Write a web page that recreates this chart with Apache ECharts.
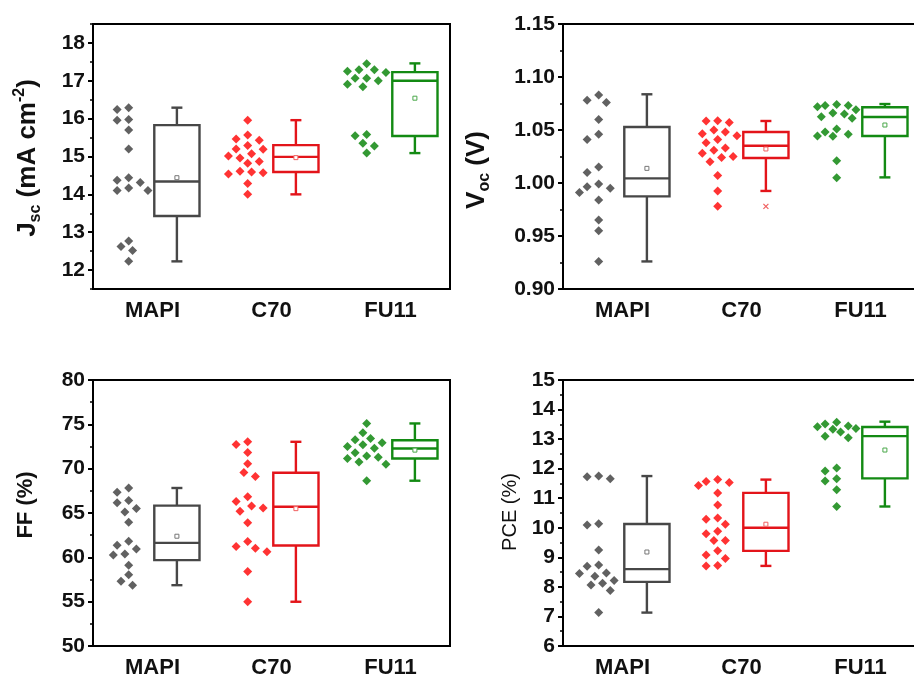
<!DOCTYPE html>
<html>
<head>
<meta charset="utf-8">
<script src="https://cdn.jsdelivr.net/npm/echarts@6/dist/echarts.min.js"></script>
<style>
  html, body { margin: 0; padding: 0; background: #fff; }
  #chart { width: 914px; height: 679px; }
</style>
</head>
<body>
<div id="chart"></div>
<script>
// ---------------- data ----------------
const groups = ['MAPI', 'C70', 'FU11'];

// Short-circuit current density, mA cm^-2
const jscMAPI = [16.29, 16.24, 15.96, 15.98, 15.70, 15.20, 14.31, 14.37, 14.44, 14.17, 14.10, 14.10, 12.62, 12.77, 12.52, 12.23];
const jscC70  = [15.96, 15.46, 15.43, 15.57, 15.29, 15.19, 15.20, 15.07, 15.01, 14.96, 14.87, 14.82, 14.61, 14.57, 14.54, 14.59, 14.29, 14.00];
const jscFU11 = [17.45, 17.25, 17.22, 17.29, 17.29, 17.00, 17.07, 17.07, 16.84, 16.91, 15.58, 15.55, 15.28, 15.35, 15.09];

// Open-circuit voltage, V
const vocMAPI = [1.083, 1.078, 1.076, 1.060, 1.046, 1.041, 1.015, 1.010, 0.995, 0.9965, 0.999, 0.991, 0.984, 0.965, 0.955, 0.926];
const vocC70  = [1.0585, 1.057, 1.0588, 1.0465, 1.0446, 1.050, 1.048, 1.041, 1.038, 1.033, 1.031, 1.028, 1.025, 1.024, 1.020, 1.007, 0.9925, 0.978];
const vocFU11 = [1.0626, 1.069, 1.065, 1.072, 1.074, 1.066, 1.073, 1.073, 1.061, 1.051, 1.048, 1.044, 1.046, 1.0443, 1.021, 1.005];

// Fill factor, %
const ffMAPI = [67.82, 67.33, 66.42, 66.16, 65.52, 65.12, 63.95, 61.81, 61.36, 60.95, 60.27, 60.39, 59.11, 58.03, 57.31, 56.86];
const ffC70  = [73.03, 72.72, 71.82, 70.55, 69.57, 69.12, 66.84, 66.31, 65.79, 65.57, 65.19, 63.91, 61.78, 61.03, 61.22, 60.62, 58.40, 54.99];
const ffFU11 = [75.09, 74.04, 73.40, 72.91, 73.25, 72.31, 72.50, 72.69, 71.30, 71.15, 71.42, 71.79, 70.74, 70.51, 68.64];

// Power conversion efficiency, %
const pceMAPI = [11.66, 11.75, 11.73, 10.14, 10.09, 9.25, 8.45, 8.47, 8.70, 8.74, 8.36, 8.12, 8.22, 8.06, 7.88, 7.13];
const pceC70  = [11.43, 11.18, 11.53, 11.57, 11.63, 10.77, 10.33, 10.29, 10.12, 9.80, 9.88, 9.57, 9.57, 9.22, 9.08, 8.96, 8.71, 8.72];
const pceFU11 = [13.42, 13.24, 13.05, 13.57, 13.44, 13.36, 13.33, 13.51, 13.10, 11.92, 12.02, 11.58, 11.66, 11.29, 10.72];

// Box statistics: [lower whisker, Q1, median, Q3, upper whisker, mean]
const jscBoxMAPI = [12.23, 13.43, 14.34, 15.83, 16.29, 14.44];
const jscBoxC70  = [14.00, 14.59, 14.99, 15.30, 15.96, 14.97];
const jscBoxFU11 = [15.09, 15.54, 17.00, 17.23, 17.46, 16.54];

const vocBoxMAPI = [0.926, 0.9874, 1.0044, 1.0528, 1.0837, 1.0138];
const vocBoxC70  = [0.9925, 1.0236, 1.0352, 1.0481, 1.0585, 1.0321];
const vocBoxFU11 = [1.0053, 1.0443, 1.0623, 1.0714, 1.0745, 1.0547];

const ffBoxMAPI = [56.86, 59.68, 61.63, 65.83, 67.82, 62.38];
const ffBoxC70  = [54.99, 61.33, 65.71, 69.54, 73.03, 65.49];
const ffBoxFU11 = [68.64, 71.15, 72.27, 73.21, 75.10, 72.09];

const pceBoxMAPI = [7.13, 8.17, 8.60, 10.13, 11.75, 9.18];
const pceBoxC70  = [8.71, 9.22, 10.00, 11.18, 11.63, 10.12];
const pceBoxFU11 = [10.72, 11.67, 13.10, 13.41, 13.59, 12.63];

// Points beyond the whiskers
const vocOutliersC70 = [0.978];

// Y tick labels
const jscTicks = [12, 13, 14, 15, 16, 17, 18];

// ---------------- styling / layout ----------------
const FONT = '"Liberation Sans", Arial, Helvetica, sans-serif';
const pointColors = ['#3a3a3a', '#ff0000', '#008000'];
const boxColors   = ['#474747', '#e3141a', '#138a13'];
const meanColors  = ['#777777', '#f06060', '#4aa84a'];

const SCATTER_SHIFT = -0.2;   // category units, dots left of the tick
const BOX_SHIFT = 0.205;      // category units, box right of the tick
const BOX_WIDTH = 0.38;       // category units
const CAP_PX = 11;

const grids = [
  { left: 93,  top: 24,  width: 357, height: 265 },
  { left: 563, top: 24,  width: 357, height: 265 },
  { left: 93,  top: 380, width: 357, height: 266 },
  { left: 563, top: 380, width: 357, height: 266 }
];

const panels = [
  { min: 11.5, max: 18.5, interval: null, fmt: v => String(v),
    pts: [jscMAPI, jscC70, jscFU11], boxes: [jscBoxMAPI, jscBoxC70, jscBoxFU11], outliers: [[], [], []] },
  { min: 0.90, max: 1.15, interval: 0.05, fmt: v => v.toFixed(2),
    pts: [vocMAPI, vocC70, vocFU11], boxes: [vocBoxMAPI, vocBoxC70, vocBoxFU11], outliers: [[], vocOutliersC70, []] },
  { min: 50, max: 80, interval: 5, fmt: v => String(v),
    pts: [ffMAPI, ffC70, ffFU11], boxes: [ffBoxMAPI, ffBoxC70, ffBoxFU11], outliers: [[], [], []] },
  { min: 6, max: 15, interval: 1, fmt: v => String(v),
    pts: [pceMAPI, pceC70, pceFU11], boxes: [pceBoxMAPI, pceBoxC70, pceBoxFU11], outliers: [[], [], []] }
];

// Spread the points of one group sideways so close values do not overlap (beeswarm)
const SWARM_SLOTS = [0, -3.85, 3.85, -7.7, 7.7, -11.55, 11.55, -15.4, 15.4, -19.25, 19.25];
function swarm(values, center, pxPerY, pxPerX) {
  const minDist = 9.5;
  const order = values.map((v, i) => i).sort((a, b) => values[b] - values[a]);
  const placed = [];
  const out = new Array(values.length);
  for (const i of order) {
    const py = values[i] * pxPerY;
    let chosen = null, bestOff = 0, bestGap = -1;
    for (const off of SWARM_SLOTS) {
      const gap = placed.reduce((m, p) => Math.min(m, Math.hypot(p.x - off, p.y - py)), Infinity);
      if (gap >= minDist) { chosen = off; break; }
      if (gap > bestGap) { bestGap = gap; bestOff = off; }
    }
    if (chosen === null) chosen = bestOff;
    placed.push({ x: chosen, y: py });
    out[i] = [center + chosen / pxPerX, values[i]];
  }
  return out;
}

const xAxes = [], yAxes = [], series = [];

panels.forEach((p, g) => {
  const grid = grids[g];
  xAxes.push({
    type: 'category', gridIndex: g, data: groups, boundaryGap: true,
    axisLine: { lineStyle: { color: '#000', width: 2 } },
    axisTick: { alignWithLabel: true, length: 5, lineStyle: { color: '#000', width: 2 } },
    axisLabel: { color: '#111', fontFamily: FONT, fontWeight: 'bold', fontSize: 22, margin: 11 },
    splitLine: { show: false }
  });
  xAxes.push({ type: 'value', gridIndex: g, min: 0.5, max: 3.5, show: false });

  const y = {
    type: 'value', gridIndex: g, min: p.min, max: p.max,
    axisLine: { show: true, lineStyle: { color: '#000', width: 2 } },
    axisTick: { show: true, length: 5, lineStyle: { color: '#000', width: 2 } },
    minorTick: { show: true, splitNumber: 2, length: 3, lineStyle: { color: '#000', width: 1.5 } },
    splitLine: { show: false },
    axisLabel: { color: '#111', fontFamily: FONT, fontWeight: 'bold', fontSize: 21, margin: 8,
                 formatter: p.fmt, showMinLabel: true, showMaxLabel: true }
  };
  if (p.interval) {
    y.interval = p.interval;
  } else {
    y.interval = 0.5;
    y.minorTick = { show: false };
    y.axisTick.customValues = jscTicks;
    y.axisLabel.customValues = jscTicks;
  }
  yAxes.push(y);

  const pxPerY = grid.height / (p.max - p.min);
  const pxPerX = grid.width / 3;

  p.pts.forEach((vals, c) => {
    series.push({
      type: 'scatter', xAxisIndex: 2 * g + 1, yAxisIndex: g,
      symbol: 'diamond', symbolSize: 9, silent: true,
      itemStyle: { color: pointColors[c] },
      data: swarm(vals, c + 1 + SCATTER_SHIFT, pxPerY, pxPerX)
    });
  });

  series.push({
    type: 'custom', xAxisIndex: 2 * g + 1, yAxisIndex: g, silent: true,
    data: p.boxes.map((b, c) => [c + 1].concat(b)),
    renderItem: function (params, api) {
      const c = params.dataIndex;
      const xc = api.value(0) + BOX_SHIFT;
      const col = boxColors[c];
      const half = api.size([BOX_WIDTH, 0])[0] / 2;
      const lo = api.coord([xc, api.value(1)]);
      const q1 = api.coord([xc, api.value(2)]);
      const md = api.coord([xc, api.value(3)]);
      const q3 = api.coord([xc, api.value(4)]);
      const hi = api.coord([xc, api.value(5)]);
      const mn = api.coord([xc, api.value(6)]);
      const ls = { stroke: col, lineWidth: 2.4, fill: null };
      const kids = [
        { type: 'line', shape: { x1: lo[0], y1: lo[1], x2: q1[0], y2: q1[1] }, style: ls },
        { type: 'line', shape: { x1: q3[0], y1: q3[1], x2: hi[0], y2: hi[1] }, style: ls },
        { type: 'line', shape: { x1: lo[0] - CAP_PX / 2, y1: lo[1], x2: lo[0] + CAP_PX / 2, y2: lo[1] }, style: ls },
        { type: 'line', shape: { x1: hi[0] - CAP_PX / 2, y1: hi[1], x2: hi[0] + CAP_PX / 2, y2: hi[1] }, style: ls },
        { type: 'rect', shape: { x: q3[0] - half, y: q3[1], width: 2 * half, height: q1[1] - q3[1] },
          style: { stroke: col, lineWidth: 2.4, fill: 'rgba(255,255,255,0)' } },
        { type: 'line', shape: { x1: md[0] - half, y1: md[1], x2: md[0] + half, y2: md[1] }, style: ls },
        { type: 'rect', shape: { x: mn[0] - 2, y: mn[1] - 2, width: 4, height: 4 },
          style: { stroke: meanColors[c], lineWidth: 1, fill: '#fff' } }
      ];
      p.outliers[c].forEach(v => {
        const o = api.coord([xc, v]);
        const s = 2.5;
        const os = { stroke: meanColors[c], lineWidth: 1.2 };
        kids.push({ type: 'line', shape: { x1: o[0] - s, y1: o[1] - s, x2: o[0] + s, y2: o[1] + s }, style: os });
        kids.push({ type: 'line', shape: { x1: o[0] - s, y1: o[1] + s, x2: o[0] + s, y2: o[1] - s }, style: os });
      });
      return { type: 'group', children: kids };
    }
  });
});

// Half-step minor ticks for the current density axis
yAxes.push({
  type: 'value', gridIndex: 0, min: 11.5, max: 18.5, interval: 0.5, position: 'left',
  axisLine: { show: false }, axisLabel: { show: false }, splitLine: { show: false },
  axisTick: { show: true, length: 3, lineStyle: { color: '#000', width: 1.5 } }
});

const titleBase = { fontFamily: FONT, fill: '#111' };
const option = {
  animation: false,
  backgroundColor: '#fff',
  grid: grids.map(g => Object.assign({ show: true, borderColor: '#000', borderWidth: 2,
                                       backgroundColor: 'transparent', outerBoundsMode: 'none' }, g)),
  xAxis: xAxes,
  yAxis: yAxes,
  series: series,
  graphic: [
    { type: 'text', x: 28, y: 158, rotation: Math.PI / 2, silent: true,
      style: Object.assign({}, titleBase, {
        text: '{m|J}{s|sc}{m| (mA cm}{p|-2}{m|)}', align: 'center', verticalAlign: 'middle',
        rich: {
          m: { fontFamily: FONT, fontWeight: 'bold', fontSize: 26, lineHeight: 32, fill: '#111' },
          s: { fontFamily: FONT, fontWeight: 'bold', fontSize: 16, lineHeight: 32, verticalAlign: 'bottom', fill: '#111' },
          p: { fontFamily: FONT, fontWeight: 'bold', fontSize: 16, lineHeight: 32, verticalAlign: 'top', fill: '#111' }
        }
      }) },
    { type: 'text', x: 477, y: 170, rotation: Math.PI / 2, silent: true,
      style: Object.assign({}, titleBase, {
        text: '{m|V}{s|oc}{m| (V)}', align: 'center', verticalAlign: 'middle',
        rich: {
          m: { fontFamily: FONT, fontWeight: 'bold', fontSize: 26, lineHeight: 32, fill: '#111' },
          s: { fontFamily: FONT, fontWeight: 'bold', fontSize: 16, lineHeight: 32, verticalAlign: 'bottom', fill: '#111' }
        }
      }) },
    { type: 'text', x: 26, y: 505, rotation: Math.PI / 2, silent: true,
      style: Object.assign({}, titleBase, { text: 'FF (%)', align: 'center', verticalAlign: 'middle',
        fontWeight: 'bold', fontSize: 22 }) },
    { type: 'text', x: 510, y: 512, rotation: Math.PI / 2, silent: true,
      style: Object.assign({}, titleBase, { text: 'PCE (%)', align: 'center', verticalAlign: 'middle',
        fontWeight: 'normal', fontSize: 20 }) }
  ]
};

const chart = echarts.init(document.getElementById('chart'), null, { renderer: 'canvas' });
chart.setOption(option);
</script>
</body>
</html>
